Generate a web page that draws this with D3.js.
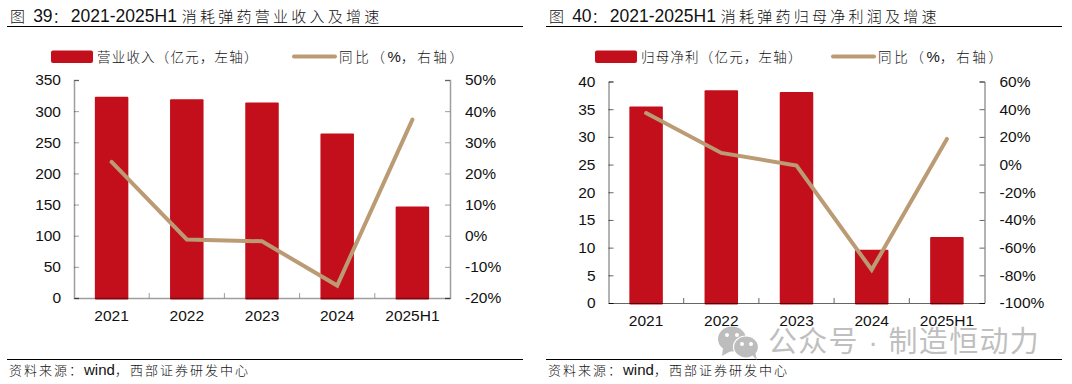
<!DOCTYPE html>
<html>
<head>
<meta charset="utf-8">
<script src="https://cdn.jsdelivr.net/npm/d3@7"></script>
<style>
  html, body { margin: 0; padding: 0; background: #fff; }
  text { font-family: "Liberation Sans", "Noto Sans CJK SC", sans-serif; fill: #111; }
</style>
</head>
<body>
<div id="chart"></div>
<script>
// Values
const categories = ["2021", "2022", "2023", "2024", "2025H1"];

const revenue = [323, 319, 314, 264, 147];
const revenueYoy = [23.7, -1.2, -1.8, -16, 37.3];
const revenueTicks = [0, 50, 100, 150, 200, 250, 300, 350];
const revenueYoyTicks = [-20, -10, 0, 10, 20, 30, 40, 50];

const profit = [35.5, 38.4, 38.1, 9.6, 11.9];
const profitYoy = [37.2, 8.4, -0.7, -76, 18.5];
const profitTicks = [0, 5, 10, 15, 20, 25, 30, 35, 40];
const profitYoyTicks = [-100, -80, -60, -40, -20, 0, 20, 40, 60];

const red = "#c20f1b";
const tan = "#bb9b74";

const svg = d3.select("#chart")
    .append("svg")
    .attr("width", 1072)
    .attr("height", 384)
    .style("display", "block");

// Latin runs and CJK runs have different sizes and spacing in the original
function mixedText(sel, str, latinSize, cjkSize, cjkSpacing) {
  str.match(/[\x00-\x7f]+|[^\x00-\x7f]+/g).forEach(run => {
    const latin = /^[\x00-\x7f]/.test(run);
    sel.append("tspan")
        .attr("font-size", latin ? latinSize : cjkSize)
        .attr("letter-spacing", latin ? 0 : cjkSpacing)
        .attr("font-weight", latin ? 400 : 300)
        .attr("xml:space", "preserve")
        .text(run);
  });
}

function drawPanel(p) {
  const g = svg.append("g");

  // Title and the two rules
  g.append("text").attr("x", p.ruleX + 3).attr("y", 21.5)
      .call(mixedText, p.title, 17.5, 15, 3.25);
  g.append("line").attr("x1", p.ruleX).attr("x2", p.ruleX + 516)
      .attr("y1", 26.5).attr("y2", 26.5).attr("stroke", "#000").attr("stroke-width", 1);
  g.append("line").attr("x1", p.ruleX).attr("x2", p.ruleX + 516)
      .attr("y1", 359.5).attr("y2", 359.5).attr("stroke", "#000").attr("stroke-width", 1);
  g.append("text").attr("x", p.ruleX + 2).attr("y", 375)
      .call(mixedText, "资料来源：wind，西部证券研发中心", 15, 13, 2);

  // Legend
  g.append("rect").attr("x", p.legendX).attr("y", 50.5).attr("width", 42).attr("height", 12.5)
      .attr("rx", 2).attr("fill", red);
  g.append("text").attr("x", p.legendX + 46).attr("y", 61.5)
      .call(mixedText, p.barLabel, 15, 13.5, 1.2);
  g.append("line").attr("x1", p.lineX).attr("x2", p.lineX + 41)
      .attr("y1", 56.6).attr("y2", 56.6)
      .attr("stroke", tan).attr("stroke-width", 4).attr("stroke-linecap", "round");
  g.append("text").attr("x", p.lineX + 45).attr("y", 61.5)
      .call(mixedText, "同比（%，右轴）", 15, 13.5, 2.7);

  // Scales
  const x = d3.scaleBand().domain(categories).range([p.left, p.right]);
  const y = d3.scaleLinear().domain(d3.extent(p.ticks)).range([p.bottom, p.top]);
  const y2 = d3.scaleLinear().domain(d3.extent(p.yoyTicks)).range([p.bottom, p.top]);
  const barWidth = 33.5;

  // Bars sit under the axes and poke out a little below the baseline
  g.selectAll(".bar")
    .data(p.bars)
    .enter().append("rect")
      .attr("class", "bar")
      .attr("x", (d, i) => x(categories[i]) + x.bandwidth() / 2 - barWidth / 2)
      .attr("y", d => y(d))
      .attr("width", barWidth)
      .attr("height", d => y(0) - y(d) + 1.5)
      .attr("rx", 1)
      .attr("fill", red);

  // Axes
  const styleAxis = a => {
    a.selectAll("path").attr("stroke", p.axisColor).attr("stroke-width", p.axisWidth);
    a.selectAll("line").attr("stroke", p.axisColor);
    a.selectAll("text").attr("font-size", 15.5)
        .attr("font-family", '"Liberation Sans", sans-serif').attr("fill", "#111");
  };

  g.append("g").attr("transform", `translate(${p.left},0)`)
      .call(d3.axisLeft(y).tickValues(p.ticks).tickSize(-5).tickPadding(13).tickSizeOuter(-5))
      .call(styleAxis);

  g.append("g").attr("transform", `translate(${p.right},0)`)
      .call(d3.axisRight(y2).tickValues(p.yoyTicks).tickFormat(d => d + "%")
          .tickSize(-5).tickPadding(15).tickSizeOuter(-5))
      .call(styleAxis);

  g.append("g").attr("transform", `translate(0,${p.bottom})`)
      .call(d3.axisBottom(x).tickSize(0).tickPadding(12))
      .call(styleAxis);

  // Ticks between the categories
  g.selectAll(".sep")
    .data(categories.slice(1))
    .enter().append("line")
      .attr("x1", d => x(d)).attr("x2", d => x(d))
      .attr("y1", p.bottom - 5).attr("y2", p.bottom)
      .attr("stroke", p.axisColor);

  const line = d3.line()
      .x((d, i) => x(categories[i]) + x.bandwidth() / 2)
      .y(d => y2(d));

  g.append("path")
      .datum(p.yoy)
      .attr("d", line)
      .attr("fill", "none")
      .attr("stroke", tan)
      .attr("stroke-width", 4)
      .attr("stroke-linecap", "round");
}

drawPanel({
  title: "图 39：2021-2025H1 消耗弹药营业收入及增速",
  barLabel: "营业收入（亿元，左轴）",
  bars: revenue, yoy: revenueYoy, ticks: revenueTicks, yoyTicks: revenueYoyTicks,
  ruleX: 7, legendX: 51, lineX: 294,
  left: 74, right: 450, top: 80, bottom: 298,
  axisColor: "rgba(0,0,0,0.38)", axisWidth: 1.5
});

drawPanel({
  title: "图 40：2021-2025H1 消耗弹药归母净利润及增速",
  barLabel: "归母净利（亿元，左轴）",
  bars: profit, yoy: profitYoy, ticks: profitTicks, yoyTicks: profitYoyTicks,
  ruleX: 546, legendX: 595, lineX: 833,
  left: 608.5, right: 984.5, top: 81.5, bottom: 303,
  axisColor: "rgba(0,0,0,0.6)", axisWidth: 1
});

// Watermark
const mark = svg.append("g");
const grey = "#bdbdbd";
mark.append("ellipse").attr("cx", 732).attr("cy", 339).attr("rx", 14).attr("ry", 12.5).attr("fill", grey);
mark.append("path").attr("d", "M723 348 L722 356 L731 351 Z").attr("fill", grey);
mark.append("ellipse").attr("cx", 746).attr("cy", 347).attr("rx", 12.5).attr("ry", 11)
    .attr("fill", grey).attr("stroke", "#fff").attr("stroke-width", 1.2);
mark.append("path").attr("d", "M752 355 L757 360 L755 352 Z").attr("fill", grey);
[[727, 335], [737, 335], [742, 344], [751, 344]].forEach(c => {
  mark.append("circle").attr("cx", c[0]).attr("cy", c[1]).attr("r", 2).attr("fill", "#fff");
});
mark.append("text").attr("x", 768).attr("y", 352)
    .attr("font-size", 29).attr("letter-spacing", 1.3)
    .style("fill", "#bfbfbf")
    .text("公众号 · 制造恒动力");
</script>
</body>
</html>
